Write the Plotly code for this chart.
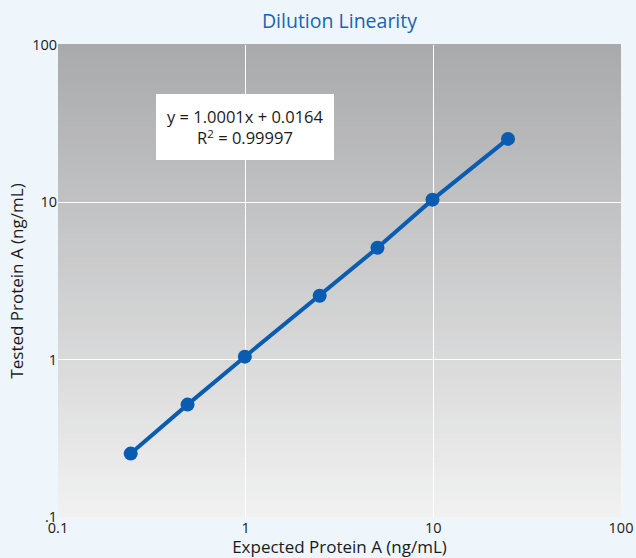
import plotly.graph_objects as go

expected = [0.244, 0.49, 0.99, 2.48, 5.04, 9.9, 25.0]
tested = [0.253, 0.518, 1.045, 2.55, 5.14, 10.4, 25.3]
tick_vals = [0.1, 1, 10, 100]
x_tick_text = ["0.1", "1", "10", "100"]
y_tick_text = [".1", "1", "10", "100"]
title_text = "Dilution Linearity"
x_title = "Expected Protein A (ng/mL)"
y_title = "Tested Protein A (ng/mL)"
eq_text = "y = 1.0001x + 0.0164<br>R<sup>2</sup> = 0.99997"

fig = go.Figure()
fig.add_trace(go.Scatter(
    x=expected, y=tested, mode="lines+markers",
    line=dict(color="#0a5cb0", width=4),
    marker=dict(color="#0a5cb0", size=14),
    showlegend=False, hoverinfo="skip",
))

# vertical gradient background
n = 80
top = (169, 170, 172)
bot = (241, 241, 241)
shapes = []
for i in range(n):
    t = i / (n - 1)
    c = tuple(int(round(top[k] + (bot[k] - top[k]) * t)) for k in range(3))
    shapes.append(dict(
        type="rect", xref="x domain", yref="y domain",
        x0=0, x1=1, y0=1 - (i + 1) / n, y1=1 - i / n + 0.002,
        fillcolor="rgb(%d,%d,%d)" % c, line=dict(width=0), layer="below",
    ))

fig.update_layout(
    width=636, height=558,
    margin=dict(l=58, r=15, t=45, b=41),
    paper_bgcolor="#eef6fc",
    plot_bgcolor="rgba(0,0,0,0)",
    shapes=shapes,
    font=dict(family="Open Sans, Noto Sans, sans-serif", color="#1a1a1a", size=13),
    title=dict(text=title_text, x=0.5, xref="paper", xanchor="center",
               y=1 - 21 / 558, yref="container", yanchor="middle",
               font=dict(size=19.5, color="#1565b4")),
    xaxis=dict(type="log", range=[-1, 2], tickvals=tick_vals, ticktext=x_tick_text,
               showgrid=True, gridcolor="#ffffff", gridwidth=1.2,
               zeroline=False, showline=False, ticks="", automargin=False,
               title=dict(text=x_title, font=dict(size=17), standoff=6),
               tickfont=dict(size=14.5)),
    yaxis=dict(type="log", range=[-1, 2], tickvals=tick_vals, ticktext=y_tick_text,
               showgrid=True, gridcolor="#ffffff", gridwidth=1.2,
               zeroline=False, showline=False, ticks="", automargin=False,
               title=dict(text=y_title, font=dict(size=17), standoff=4),
               tickfont=dict(size=14.5)),
    annotations=[dict(
        text=eq_text, xref="paper", yref="paper", x=0.332, y=0.827,
        xanchor="center", yanchor="middle", showarrow=False,
        bgcolor="#ffffff", borderwidth=0, borderpad=11,
        font=dict(size=16.5, color="#1a1a1a"), align="center",
    )],
)

fig.write_html(
    "out.html",
    config={"displayModeBar": False},
    post_script="document.body.style.margin='0';document.body.style.background='#eef6fc';",
)
